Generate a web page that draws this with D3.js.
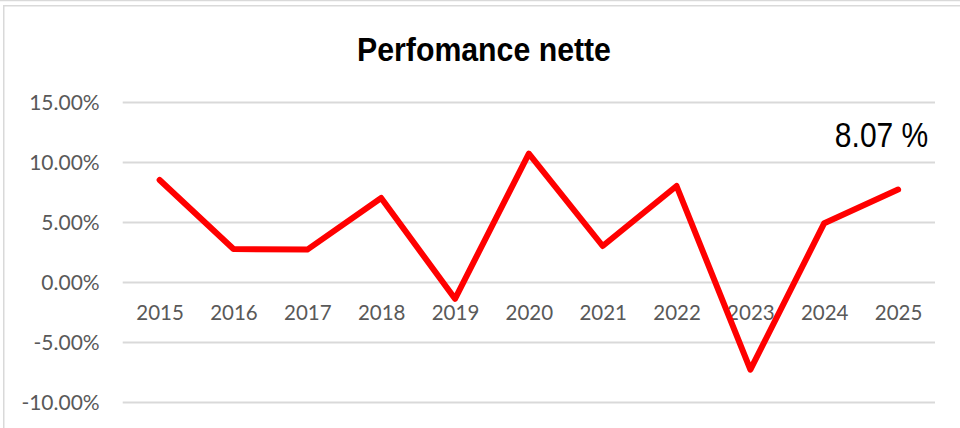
<!DOCTYPE html>
<html>
<head>
<meta charset="utf-8">
<script src="https://cdn.jsdelivr.net/npm/d3@7"></script>
<style>
  body { margin: 0; background: #fff; }
</style>
</head>
<body>
<svg id="chart" width="960" height="428"></svg>
<script>
const years = ["2015", "2016", "2017", "2018", "2019", "2020", "2021", "2022", "2023", "2024", "2025"];
const perf = [8.5, 2.75, 2.7, 7.0, -1.4, 10.7, 3.0, 8.0, -7.3, 4.9, 7.7];
const yTicks = [-10, -5, 0, 5, 10, 15];
const title = "Perfomance nette";
const lastLabel = "8.07 %";

let svg = d3.select("#chart");

// outer frame bits
svg.append("line").
attr("x1", 0).attr("x2", 960).
attr("y1", 0.5).attr("y2", 0.5).
attr("stroke", "#d9d9d9").attr("stroke-width", 1.5);

svg.append("rect").
attr("x", 3.75).attr("y", 5.75).
attr("width", 1000).attr("height", 500).
attr("fill", "#fff").
attr("stroke", "#d9d9d9").attr("stroke-width", 1.5);

let x = d3.scalePoint().
domain(years).
range([122.7, 935]).
padding(0.5);

let y = d3.scaleLinear().
domain([-10, 15]).
range([402, 102]);

// gridlines + y labels
let yAxis = svg.append("g").
attr("transform", "translate(122.7,0)").
call(d3.axisLeft(y).
tickValues(yTicks).
tickSize(-(935 - 122.7)).
tickPadding(23).
tickFormat(d => d3.format(".2f")(d).replace("\u2212", "-") + "%"));

yAxis.select(".domain").remove();
yAxis.selectAll(".tick line").
attr("stroke", "#d9d9d9").
attr("stroke-width", 2);
yAxis.selectAll(".tick text").
attr("font-size", 21).
attr("dy", "0.35em").
style("font-family", "Lato, 'Open Sans', sans-serif").
style("fill", "#595959");

// x labels sit just under the zero line
let xAxis = svg.append("g").
attr("transform", "translate(0," + y(0) + ")").
call(d3.axisBottom(x).tickSize(0).tickPadding(23));

xAxis.select(".domain").remove();
xAxis.selectAll(".tick text").
attr("font-size", 20.5).
attr("dy", "0.71em").
style("font-family", "Lato, 'Open Sans', sans-serif").
style("fill", "#595959");

// the series
let line = d3.line().
x((d, i) => x(years[i])).
y(d => y(d));

svg.append("path").
datum(perf).
attr("d", line).
attr("fill", "none").
attr("stroke", "#ff0000").
attr("stroke-width", 6).
attr("stroke-linejoin", "round").
attr("stroke-linecap", "round");

// title (narrow look via horizontal squeeze)
svg.append("text").
attr("transform", "translate(484,60.7) scale(0.89,1)").
attr("text-anchor", "middle").
attr("font-family", "'Liberation Sans', Arial, sans-serif").
attr("font-weight", "bold").
attr("font-size", 34).
attr("fill", "#000").
text(title);

// value note
svg.append("text").
attr("transform", "translate(928.3,147.3) scale(0.87,1)").
attr("text-anchor", "end").
attr("font-family", "'Liberation Sans', Arial, sans-serif").
attr("font-size", 34.5).
attr("fill", "#000").
text(lastLabel);
</script>
</body>
</html>
